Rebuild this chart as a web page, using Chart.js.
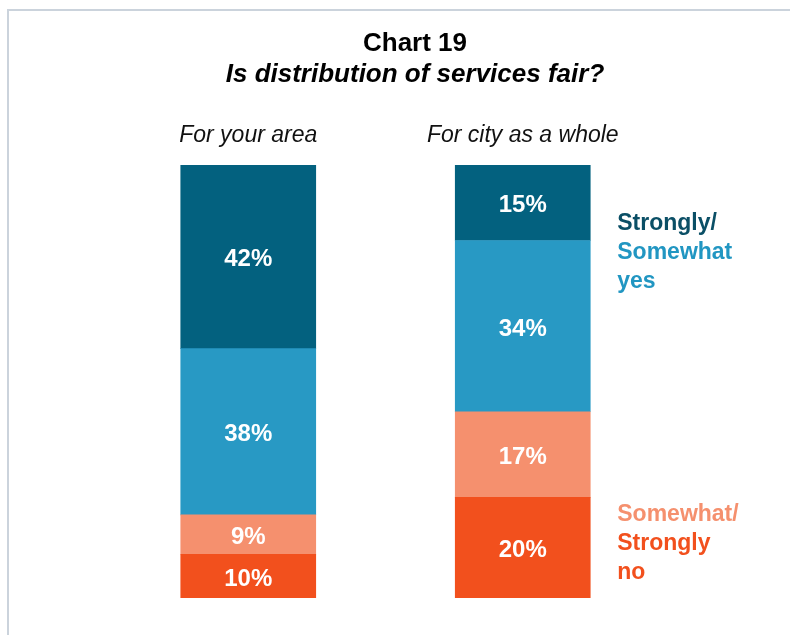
<!DOCTYPE html>
<html>
<head>
<meta charset="utf-8">
<script src="https://cdn.jsdelivr.net/npm/chart.js@4/dist/chart.umd.min.js"></script>
<style>
  html, body { margin: 0; padding: 0; background: #fff; }
  #wrap { width: 790px; height: 635px; position: relative; }
</style>
</head>
<body>
<div id="wrap"><canvas id="c" width="790" height="635"></canvas></div>
<script>
// Survey answers, percent of respondents (bottom to top of each bar)
const categories = ['For your area', 'For city as a whole'];
const stronglyNo = [10, 20];
const somewhatNo = [9, 17];
const somewhatYes = [38, 34];
const stronglyYes = [42, 15];

const FONT = '"Liberation Sans", Arial, Helvetica, sans-serif';
const C_DARK = '#03617f';
const C_BLUE = '#2899c4';
const C_SALMON = '#f5906e';
const C_ORANGE = '#f2501d';

// each bar fills the full height: segments are shares of the answers given
const totals = categories.map((_, i) =>
  stronglyNo[i] + somewhatNo[i] + somewhatYes[i] + stronglyYes[i]);
const share = arr => arr.map((v, i) => v / totals[i] * 100);

const series = [
  { values: stronglyNo, color: C_ORANGE },
  { values: somewhatNo, color: C_SALMON },
  { values: somewhatYes, color: C_BLUE },
  { values: stronglyYes, color: C_DARK }
];

const frame = {
  id: 'frame',
  beforeDraw(chart) {
    const ctx = chart.ctx;
    ctx.save();
    ctx.strokeStyle = '#cbd3dc';
    ctx.lineWidth = 2;
    ctx.beginPath();
    ctx.moveTo(8, chart.height);
    ctx.lineTo(8, 10);
    ctx.lineTo(chart.width, 10);
    ctx.stroke();
    ctx.restore();
  }
};

const segmentLabels = {
  id: 'segmentLabels',
  afterDatasetsDraw(chart) {
    const ctx = chart.ctx;
    ctx.save();
    ctx.fillStyle = '#ffffff';
    ctx.font = 'bold 24px ' + FONT;
    ctx.textAlign = 'center';
    ctx.textBaseline = 'middle';
    chart.data.datasets.forEach((ds, di) => {
      const meta = chart.getDatasetMeta(di);
      meta.data.forEach((bar, i) => {
        ctx.fillText(ds.values[i] + '%', bar.x, (bar.y + bar.base) / 2 + 3);
      });
    });
    ctx.restore();
  }
};

const sideLegend = {
  id: 'sideLegend',
  afterDraw(chart) {
    const ctx = chart.ctx;
    const meta = chart.getDatasetMeta(0);
    const bar = meta.data[1];
    const x = bar.x + bar.width / 2 + 27;
    const top = chart.chartArea.top;
    const lh = 28.7;
    const groups = [
      { y: top + 59, lines: [['Strongly/', '#0b4f66'], ['Somewhat', '#2196c2'], ['yes', '#2196c2']] },
      { y: top + 350, lines: [['Somewhat/', C_SALMON], ['Strongly', C_ORANGE], ['no', C_ORANGE]] }
    ];
    ctx.save();
    ctx.font = 'bold 23px ' + FONT;
    ctx.textAlign = 'left';
    ctx.textBaseline = 'middle';
    groups.forEach(g => {
      g.lines.forEach((ln, k) => {
        ctx.fillStyle = ln[1];
        ctx.fillText(ln[0], x, g.y + k * lh);
      });
    });
    ctx.restore();
  }
};

const hiddenAxis = (pos, w) => ({
  position: pos,
  display: true,
  min: 0,
  max: 100,
  stacked: pos === 'left',
  ticks: { display: false },
  grid: { display: false },
  border: { display: false },
  afterFit(s) { s.width = w; }
});

new Chart(document.getElementById('c'), {
  type: 'bar',
  data: {
    labels: categories,
    datasets: series.map(s => ({
      data: share(s.values),
      values: s.values,
      backgroundColor: s.color,
      borderWidth: 0,
      barThickness: 135,
      yAxisID: 'y'
    }))
  },
  options: {
    responsive: false,
    animation: false,
    layout: { padding: { left: 40, right: 0, top: 0, bottom: 37 } },
    scales: {
      x: {
        position: 'top',
        stacked: true,
        grid: { display: false },
        border: { display: false },
        ticks: {
          padding: 8,
          color: '#111',
          font: { family: FONT, size: 23, style: 'italic' }
        },
        afterFit(s) { s.height = 44.6; }
      },
      y: hiddenAxis('left', 71),
      yR: hiddenAxis('right', 130)
    },
    plugins: {
      legend: { display: false },
      tooltip: { enabled: false },
      title: {
        display: true,
        text: 'Chart 19',
        color: '#000',
        font: { family: FONT, size: 26, weight: 'bold' },
        padding: { top: 28, bottom: 0 }
      },
      subtitle: {
        display: true,
        text: 'Is distribution of services fair?',
        color: '#000',
        font: { family: FONT, size: 26, weight: 'bold', style: 'italic' },
        padding: { top: 0, bottom: 30 }
      }
    }
  },
  plugins: [frame, segmentLabels, sideLegend]
});
</script>
</body>
</html>
